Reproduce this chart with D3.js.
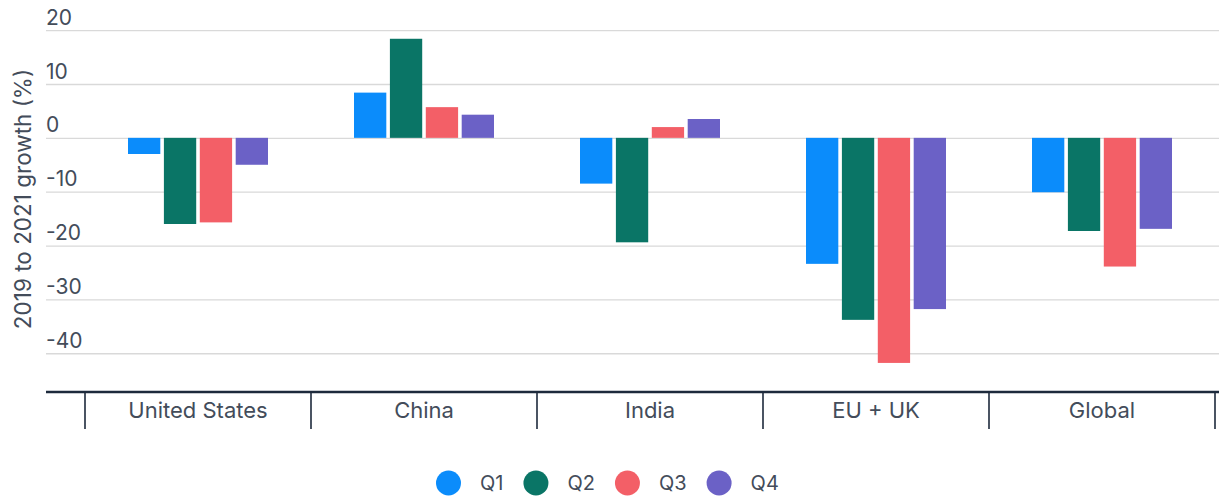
<!DOCTYPE html>
<html><head><meta charset="utf-8">
<script src="https://cdn.jsdelivr.net/npm/d3@7"></script>
<style>
html,body{margin:0;padding:0;background:#fff;}
svg{display:block;font-family:Inter,"Open Sans",sans-serif;}
</style></head>
<body><svg id="chart" width="1219" height="499"></svg>
<script>
const categories = ["United States","China","India","EU + UK","Global"];
const seriesNames = ["Q1","Q2","Q3","Q4"];
const q1 = [-3.0, 8.4, -8.5, -23.4, -10.1];
const q2 = [-16.0, 18.4, -19.4, -33.8, -17.3];
const q3 = [-15.7, 5.7, 2.0, -41.8, -23.9];
const q4 = [-5.0, 4.3, 3.5, -31.8, -16.9];
const yTicks = [20, 10, 0, -10, -20, -30, -40];
const yTickLabels = ["20","10","0","-10","-20","-30","-40"];
const colors = ["#0b8cfb","#0a7566","#f35f67","#6b61c6"];
const yTitle = "2019 to 2021 growth (%)";

const series = [q1,q2,q3,q4];
const svg = d3.select("#chart");
const W = 1219;
const textColor = "#434c5a";

const y = d3.scaleLinear().domain([-47.2, 25.6]).range([392, 0]);
const x0 = d3.scaleBand().domain(categories).range([85, 1215]).padding(0);
const x1 = d3.scaleBand().domain(seriesNames).range([43, 183]).paddingInner(0.1);

// gridlines + y labels
const yAxis = d3.axisLeft(y).tickValues(yTicks).tickSize(-(W - 46))
  .tickFormat((d,i) => yTickLabels[i]);
const gy = svg.append("g").attr("transform","translate(46,0)").call(yAxis);
gy.select(".domain").remove();
gy.selectAll(".tick line").attr("stroke","#d9d9d9").attr("stroke-width",1.3);
gy.selectAll(".tick text").attr("x",0).attr("dy","-6").attr("y",0)
  .attr("text-anchor","start").attr("dominant-baseline","auto")
  .attr("fill",textColor).attr("font-size",21).attr("font-family","Inter, sans-serif");

// bars
const groups = svg.append("g").selectAll("g").data(categories).join("g")
  .attr("transform", d => `translate(${x0(d)},0)`);
groups.selectAll("rect").data((c,ci) => seriesNames.map((s,si) => ({s, v: series[si][ci], si})))
  .join("rect")
  .attr("x", d => x1(d.s))
  .attr("width", x1.bandwidth())
  .attr("y", d => y(Math.max(0, d.v)))
  .attr("height", d => Math.abs(y(d.v) - y(0)))
  .attr("fill", d => colors[d.si]);

// x axis
const xAxis = d3.axisBottom(x0).tickSize(0).tickSizeOuter(0);
const gx = svg.append("g").attr("transform","translate(0,392)").call(xAxis);
gx.select(".domain").remove();
gx.selectAll(".tick text").attr("y",18).attr("dy","0.35em")
  .attr("fill",textColor).attr("font-size",22).attr("font-family","Inter, sans-serif");
svg.append("line").attr("x1",46).attr("x2",W).attr("y1",392).attr("y2",392)
  .attr("stroke","#1d2a3c").attr("stroke-width",2.5);
const bounds = categories.map(c => x0(c)).concat([x0.range()[1]]);
svg.append("g").selectAll("line").data(bounds).join("line")
  .attr("x1",d=>d).attr("x2",d=>d).attr("y1",392).attr("y2",429)
  .attr("stroke","#1d2a3c").attr("stroke-width",1.6);

// y title
svg.append("text").attr("transform","translate(31,199) rotate(-90)")
  .attr("text-anchor","middle").attr("fill",textColor).attr("font-size",22.5)
  .attr("font-family","Inter, sans-serif").text(yTitle);

// legend
const leg = svg.append("g");
let lx = 436;
seriesNames.forEach((s,i) => {
  leg.append("circle").attr("cx", lx + 12.5).attr("cy", 483).attr("r", 12.5).attr("fill", colors[i]);
  const t = leg.append("text").attr("x", lx + 44).attr("y", 483).attr("dy","0.35em")
    .attr("fill",textColor).attr("font-size",20).attr("font-family","Inter, sans-serif").text(s);
  const w = t.node().getComputedTextLength();
  lx = lx + 44 + w + 20;
});
</script></body></html>
